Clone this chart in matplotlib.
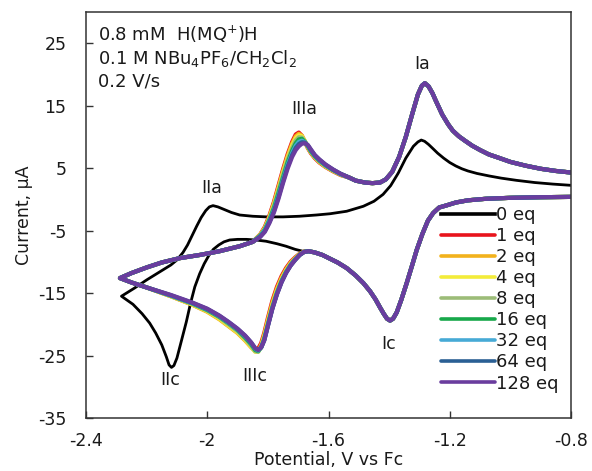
import matplotlib
matplotlib.use('Agg')
import matplotlib.pyplot as plt

plt.rcParams['font.family'] = ['DejaVu Sans']
plt.rcParams['mathtext.fontset'] = 'dejavusans'

# ---------------- data ----------------
labels = ['0 eq', '1 eq', '2 eq', '4 eq', '8 eq', '16 eq', '32 eq', '64 eq', '128 eq']
colors = ['#000000', '#e8141c', '#f2b21c', '#f3ec3a', '#9cbc78', '#17a84a',
          '#46aad6', '#2a5f94', '#6a3d9e']

# forward (cathodic) sweep, common part -0.80 .. -1.645 V (Ic wave)
fwd_right_V = [-0.80, -0.90, -1.00, -1.08, -1.14, -1.18, -1.21, -1.235, -1.255, -1.272,
               -1.29, -1.309, -1.325, -1.342, -1.36, -1.375, -1.387, -1.397, -1.407, -1.418,
               -1.43, -1.445, -1.463, -1.485, -1.51, -1.54, -1.57, -1.595, -1.62, -1.645]
fwd_right_I = [0.4, 0.35, 0.25, 0.1, -0.15, -0.5, -0.95, -1.3, -2.2, -3.4,
               -5.5, -8.1, -10.7, -13.4, -16.1, -18.1, -19.1, -19.4, -19.1, -18.3,
               -17.3, -16.0, -14.7, -13.4, -12.2, -11.0, -10.1, -9.5, -8.9, -8.5]

# forward sweep, IIIc region (per titration point)
iiic_V = [-1.665, -1.68, -1.695, -1.71, -1.725, -1.74, -1.755, -1.77, -1.785, -1.80,
          -1.812, -1.822, -1.832, -1.842, -1.855, -1.875, -1.90, -1.93, -1.96, -2.00,
          -2.05, -2.12]
iiic_1eq = [-8.3, -8.35, -8.7, -9.3, -10.0, -11.0, -12.3, -14.0, -16.2, -19.0,
            -21.4, -23.0, -23.9, -24.0, -23.5, -22.5, -21.3, -20.2, -19.1, -17.9, -16.8, -15.5]
iiic_2eq = [-8.3, -8.35, -8.75, -9.4, -10.15, -11.2, -12.55, -14.3, -16.5, -19.3,
            -21.7, -23.3, -24.2, -24.3, -23.7, -22.6, -21.4, -20.3, -19.2, -18.0, -16.85, -15.5]
iiic_4eq = [-8.3, -8.4, -8.8, -9.5, -10.3, -11.4, -12.8, -14.6, -16.9, -19.6,
            -22.0, -23.5, -24.4, -24.4, -23.6, -22.5, -21.3, -20.2, -19.1, -17.9, -16.8, -15.5]
iiic_8eq = [-8.3, -8.4, -8.85, -9.55, -10.4, -11.55, -13.0, -14.8, -17.1, -19.9,
            -22.2, -23.6, -24.4, -24.3, -23.4, -22.3, -21.1, -20.0, -18.9, -17.8, -16.7, -15.45]
iiic_16eq = [-8.3, -8.4, -8.85, -9.6, -10.5, -11.65, -13.1, -15.0, -17.3, -20.1,
             -22.4, -23.7, -24.3, -24.1, -23.2, -22.1, -20.9, -19.8, -18.8, -17.7, -16.65, -15.4]
iiic_32eq = [-8.3, -8.4, -8.9, -9.65, -10.55, -11.7, -13.2, -15.1, -17.4, -20.2,
             -22.5, -23.7, -24.2, -23.9, -23.0, -21.9, -20.8, -19.7, -18.7, -17.6, -16.6, -15.4]
iiic_64eq = [-8.3, -8.4, -8.9, -9.7, -10.6, -11.75, -13.25, -15.15, -17.45, -20.25,
             -22.55, -23.7, -24.1, -23.85, -22.95, -21.85, -20.75, -19.65, -18.65, -17.55, -16.55, -15.35]
iiic_128eq = [-8.3, -8.4, -8.9, -9.7, -10.6, -11.8, -13.3, -15.2, -17.5, -20.3,
              -22.6, -23.7, -24.1, -23.8, -22.9, -21.8, -20.7, -19.6, -18.6, -17.5, -16.5, -15.3]

# forward sweep end + reverse sweep start (common)
fwd_left_V = [-2.20, -2.25, -2.288]
fwd_left_I = [-14.1, -13.3, -12.6]
rev_left_V = [-2.288, -2.25, -2.20, -2.15, -2.09, -2.025, -1.96, -1.893, -1.85]
rev_left_I = [-12.6, -11.8, -10.9, -10.1, -9.4, -8.9, -8.3, -7.5, -6.8]

# reverse sweep, IIIa region (per titration point)
iiia_V = [-1.825, -1.81, -1.795, -1.78, -1.765, -1.75, -1.735, -1.72, -1.708, -1.698,
          -1.688, -1.678, -1.668, -1.658, -1.645, -1.63, -1.61, -1.585, -1.56]
iiia_1eq = [-5.6, -4.4, -2.6, -0.4, 2.2, 4.8, 7.2, 9.2, 10.4, 10.7,
            10.2, 9.2, 8.2, 7.4, 6.6, 5.9, 5.2, 4.5, 3.9]
iiia_2eq = [-5.65, -4.55, -2.8, -0.65, 1.9, 4.5, 6.9, 8.9, 10.1, 10.5,
            10.2, 9.3, 8.3, 7.5, 6.7, 6.0, 5.25, 4.55, 3.95]
iiia_4eq = [-5.7, -4.65, -2.95, -0.85, 1.65, 4.2, 6.6, 8.6, 9.8, 10.25,
            10.1, 9.35, 8.35, 7.55, 6.75, 6.05, 5.3, 4.6, 4.0]
iiia_8eq = [-5.75, -4.75, -3.1, -1.1, 1.35, 3.9, 6.3, 8.2, 9.45, 9.95,
            9.9, 9.3, 8.4, 7.6, 6.8, 6.1, 5.35, 4.65, 4.0]
iiia_16eq = [-5.8, -4.85, -3.3, -1.4, 1.0, 3.5, 5.9, 7.8, 9.0, 9.6,
             9.7, 9.2, 8.5, 7.7, 6.9, 6.2, 5.45, 4.7, 4.05]
iiia_32eq = [-5.85, -4.95, -3.5, -1.7, 0.6, 3.1, 5.5, 7.4, 8.6, 9.2,
             9.4, 9.15, 8.6, 7.85, 7.0, 6.3, 5.5, 4.75, 4.05]
iiia_64eq = [-5.95, -5.1, -3.65, -1.9, 0.35, 2.85, 5.2, 7.1, 8.25, 8.85,
             9.15, 9.1, 8.65, 7.9, 7.05, 6.35, 5.55, 4.75, 4.1]
iiia_128eq = [-6.0, -5.2, -3.8, -2.1, 0.1, 2.6, 4.9, 6.8, 7.9, 8.5,
              8.9, 9.0, 8.7, 8.0, 7.1, 6.4, 5.6, 4.8, 4.1]

# reverse sweep, Ia region (common)
rev_right_V = [-1.532, -1.51, -1.48, -1.455, -1.43, -1.411, -1.39, -1.367, -1.345, -1.323,
               -1.305, -1.292, -1.282, -1.27, -1.257, -1.247, -1.225, -1.205, -1.19, -1.17,
               -1.15, -1.126, -1.10, -1.071, -1.035, -1.00, -0.95, -0.90, -0.85, -0.80]
rev_right_I = [3.5, 3.0, 2.7, 2.6, 2.7, 3.2, 4.4, 6.8, 10.0, 13.8,
               16.8, 18.2, 18.6, 18.1, 17.0, 15.9, 13.6, 12.0, 11.0, 10.1,
               9.4, 8.6, 7.9, 7.2, 6.6, 6.0, 5.4, 4.9, 4.55, 4.3]

# 0 eq (black) own parts
black_fwd_V = [-1.665, -1.685, -1.71, -1.74, -1.77, -1.806, -1.84, -1.871, -1.90, -1.926,
               -1.945, -1.962, -1.98, -1.995, -2.01, -2.025, -2.041, -2.055, -2.069, -2.085,
               -2.10, -2.11, -2.118, -2.126, -2.135, -2.15, -2.17, -2.19, -2.215, -2.245, -2.283]
black_fwd_I = [-8.3, -8.3, -8.0, -7.5, -7.1, -6.7, -6.5, -6.4, -6.4, -6.5,
               -6.8, -7.3, -8.0, -9.0, -10.3, -11.9, -14.0, -16.6, -19.6, -22.6,
               -25.4, -26.6, -26.9, -26.5, -25.2, -23.3, -21.4, -19.8, -18.3, -16.8, -15.5]
black_rev_V = [-2.283, -2.24, -2.20, -2.15, -2.12, -2.10, -2.08, -2.065, -2.05, -2.035,
               -2.02, -2.005, -1.993, -1.981, -1.965, -1.945, -1.92, -1.893, -1.85, -1.806,
               -1.75, -1.696, -1.64, -1.595, -1.54, -1.485, -1.45, -1.42, -1.395, -1.37,
               -1.345, -1.32, -1.305, -1.294, -1.283, -1.27, -1.257, -1.24, -1.22, -1.20,
               -1.18, -1.16, -1.14, -1.11, -1.07, -1.03, -0.98, -0.92, -0.86, -0.80]
black_rev_I = [-15.5, -14.2, -12.9, -11.4, -10.5, -9.7, -8.5, -7.3, -5.8, -4.3,
               -2.9, -1.8, -1.2, -1.0, -1.2, -1.6, -2.1, -2.5, -2.7, -2.8,
               -2.8, -2.7, -2.5, -2.3, -1.9, -1.1, -0.3, 0.8, 2.2, 4.2,
               6.6, 8.5, 9.2, 9.5, 9.3, 8.8, 8.2, 7.4, 6.6, 5.9,
               5.35, 4.9, 4.55, 4.15, 3.75, 3.4, 3.05, 2.7, 2.45, 2.25]

iiic_sets = [iiic_1eq, iiic_2eq, iiic_4eq, iiic_8eq, iiic_16eq, iiic_32eq, iiic_64eq, iiic_128eq]
iiia_sets = [iiia_1eq, iiia_2eq, iiia_4eq, iiia_8eq, iiia_16eq, iiia_32eq, iiia_64eq, iiia_128eq]

x_ticks = [-2.4, -2.0, -1.6, -1.2, -0.8]
x_ticklabels = ['-2.4', '-2', '-1.6', '-1.2', '-0.8']
y_ticks = [-35, -25, -15, -5, 5, 15, 25]
y_ticklabels = ['-35', '-25', '-15', '-5', '5', '15', '25']

peak_labels = ['Ia', 'IIIa', 'IIa', 'Ic', 'IIIc', 'IIc']
peak_V = [-1.291, -1.681, -1.984, -1.403, -1.842, -2.123]
peak_I = [21.7, 14.5, 1.8, -23.1, -28.2, -28.9]

# ---------------- figure ----------------
W, H = 592, 471
fig = plt.figure(figsize=(W / 100, H / 100), dpi=100)
ax = fig.add_axes([86 / W, 1 - 418 / H, 485 / W, 406 / H])

txt = '#1a1a1a'

bV = fwd_right_V + black_fwd_V + black_rev_V
bI = fwd_right_I + black_fwd_I + black_rev_I
ax.plot(bV, bI, color=colors[0], lw=2.0, label=labels[0], solid_joinstyle='round')

for lab, col, c_set, a_set in zip(labels[1:], colors[1:], iiic_sets, iiia_sets):
    V = fwd_right_V + iiic_V + fwd_left_V + rev_left_V + iiia_V + rev_right_V
    I = fwd_right_I + c_set + fwd_left_I + rev_left_I + a_set + rev_right_I
    ax.plot(V, I, color=col, lw=3.0, label=lab, solid_joinstyle='round',
            solid_capstyle='round')

ax.set_xlim(-2.4, -0.8)
ax.set_ylim(-35, 30)
ax.set_xticks(x_ticks)
ax.set_xticklabels(x_ticklabels)
ax.set_yticks(y_ticks)
ax.set_yticklabels(y_ticklabels)
ax.tick_params(axis='both', direction='in', length=5, width=1, colors='#333333',
               labelcolor=txt, labelsize=12.5)
ax.tick_params(axis='y', pad=14)
ax.tick_params(axis='x', pad=10)
for s in ax.spines.values():
    s.set_color('#333333')
    s.set_linewidth(1.1)

ax.set_xlabel('Potential, V vs Fc', fontsize=12.5, color=txt, labelpad=1)
ax.set_ylabel('Current, µA', fontsize=12.5, color=txt, labelpad=4)

for lab, v, i in zip(peak_labels, peak_V, peak_I):
    ax.text(v, i, lab, fontsize=12.5, color=txt, ha='center', va='center')

ax.text(0.025, 26.4, r'0.8 mM  H(MQ$^{+}$)H', transform=ax.get_yaxis_transform(),
        fontsize=13, color=txt, ha='left', va='center')
ax.text(0.025, 22.6, r'0.1 M NBu$_{4}$PF$_{6}$/CH$_{2}$Cl$_{2}$',
        transform=ax.get_yaxis_transform(), fontsize=13, color=txt, ha='left', va='center')
ax.text(0.025, 18.8, '0.2 V/s', transform=ax.get_yaxis_transform(),
        fontsize=13, color=txt, ha='left', va='center')

leg = ax.legend(loc='upper left', bbox_to_anchor=((441 - 86) / 485, (418 - 206) / 406),
                frameon=False, fontsize=13, handlelength=3.0, handletextpad=0.05,
                labelspacing=0.17, borderpad=0, borderaxespad=0)
for t in leg.get_texts():
    t.set_color(txt)
for h in leg.get_lines():
    h.set_linewidth(2.6)

fig.savefig('out.png', dpi=100)
